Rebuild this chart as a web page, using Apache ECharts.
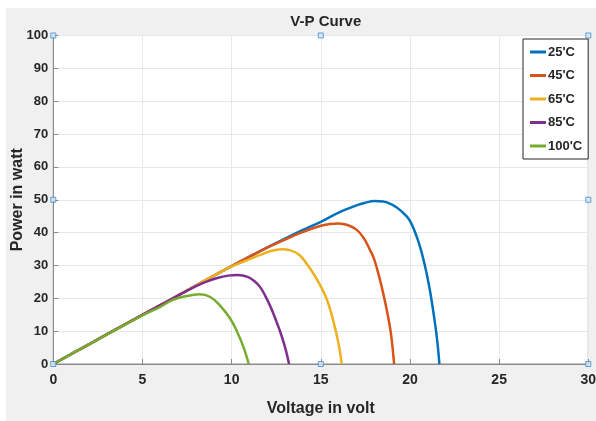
<!DOCTYPE html>
<html>
<head>
<meta charset="utf-8">
<script src="https://cdn.jsdelivr.net/npm/echarts@6/dist/echarts.min.js"></script>
<style>
  html, body { margin: 0; padding: 0; background: #ffffff; }
  #chart { width: 596px; height: 421px; }
</style>
</head>
<body>
<div id="chart"></div>
<script>
// ---- data ----
const seriesNames = ["25'C", "45'C", "65'C", "85'C", "100'C"];
const seriesColors = ['#0072BD', '#D95319', '#EDB120', '#7E2F8E', '#77AC30'];

const curve25 = [[0,0],[2,6],[4,12],[6,17.9],[8,23.9],[10,29.8],[12,35.5],[13,38.2],[14,40.8],[15,43.3],[16,46.1],[17,48.3],[17.5,49.1],[18,49.6],[18.5,49.5],[19,48.5],[19.5,46.6],[20,43.6],[20.5,36.8],[20.8,30.8],[21.1,23],[21.4,12.6],[21.55,6],[21.65,0]];
const curve45 = [[0,0],[2,6],[4,12],[6,17.9],[8,23.9],[10,29.8],[12,35.4],[13,37.9],[14,40.2],[15,42.1],[15.5,42.6],[16,42.8],[16.5,42.3],[17,40.9],[17.4,38.4],[17.76,34.7],[18,31.8],[18.3,26],[18.5,21.5],[18.7,16.4],[18.9,10.5],[19.0,6.3],[19.11,0]];
const curve65 = [[0,0],[2,6],[4,12],[6,17.9],[8,23.9],[10,29.7],[10.5,30.8],[11,31.9],[11.6,33.2],[12.2,34.4],[12.8,34.9],[13.3,34.6],[13.8,33.2],[14.2,30.6],[14.6,27.4],[14.96,24.0],[15.33,19.8],[15.6,15.2],[15.85,9.8],[16.05,4.6],[16.17,0]];
const curve85 = [[0,0],[2,6],[4,12],[6,17.9],[8,23.7],[8.6,25.1],[9.2,26.2],[9.8,26.9],[10.35,27.1],[10.9,26.5],[11.3,25.1],[11.6,23.4],[11.9,20.6],[12.2,17.2],[12.5,13.1],[12.8,8.6],[13.05,4],[13.22,0]];
const curve100 = [[0,0],[2,6],[4,11.9],[5,14.8],[6,17.4],[6.7,19.5],[7.4,20.6],[8.2,21.2],[8.8,20.4],[9.35,17.8],[9.9,14],[10.3,9.9],[10.66,5.2],[10.96,0]];
const curves = [curve25, curve45, curve65, curve85, curve100];

// axis setup (tick values)
const xMin = 0, xMax = 30, xStep = 5;
const yMin = 0, yMax = 100, yStep = 10;
// MATLAB figure selection handles (in data units)
const handlePoints = [[0,0],[15,0],[30,0],[0,50],[30,50],[0,100],[15,100],[30,100]];

const titleText = 'V-P Curve';
const xName = 'Voltage in volt';
const yName = 'Power in watt';

// ---- chart ----
const FONT = "'Liberation Sans Narrow', 'Liberation Sans', Arial, sans-serif";
const TXT = '#262626';
const chart = echarts.init(document.getElementById('chart'), null, { renderer: 'canvas' });

const lineSeries = curves.map((c, i) => ({
  name: seriesNames[i],
  type: 'line',
  data: c,
  showSymbol: false,
  smooth: 0.4,
  lineStyle: { width: 2.5, color: seriesColors[i] },
  itemStyle: { color: seriesColors[i] },
  z: 3 + i,
  animation: false
}));

chart.setOption({
  animation: false,
  backgroundColor: '#ffffff',
  graphic: [{
    type: 'rect', z: -10, silent: true,
    shape: { x: 6, y: 8, width: 590, height: 413 },
    style: { fill: '#f0f0f0' }
  }],
  title: {
    text: titleText,
    left: 320.8, top: 9, textAlign: 'center',
    textStyle: { fontFamily: FONT, fontWeight: 'bold', fontSize: 15, color: TXT }
  },
  legend: {
    data: seriesNames,
    orient: 'vertical',
    left: 523, top: 39,
    padding: [6, 6, 6, 7],
    itemGap: 9.5,
    itemWidth: 16, itemHeight: 3,
    icon: 'rect',
    backgroundColor: '#ffffff',
    borderColor: '#262626', borderWidth: 1,
    textStyle: { fontFamily: FONT, fontWeight: 'bold', fontSize: 13, color: TXT, lineHeight: 14, padding: [0, 0, 0, -3] }
  },
  grid: {
    left: 53.3, right: 7.7, top: 35.5, bottom: 57,
    show: true, backgroundColor: '#ffffff', borderColor: '#8a8a8a', borderWidth: 1,
    containLabel: false,
    outerBoundsMode: 'none'
  },
  xAxis: {
    type: 'value', min: xMin, max: xMax, interval: xStep,
    name: xName, nameLocation: 'middle', nameGap: 37, nameMoveOverlap: false,
    nameTextStyle: { fontFamily: FONT, fontWeight: 'bold', fontSize: 16, color: TXT },
    axisLine: { show: true, lineStyle: { color: '#8a8a8a', width: 1 } },
    axisTick: { show: true, inside: true, length: 5, lineStyle: { color: '#8a8a8a' } },
    axisLabel: { fontFamily: FONT, fontWeight: 'bold', fontSize: 14, color: TXT, margin: 9 },
    splitLine: { show: true, lineStyle: { color: '#e8e8e8', width: 1 } }
  },
  yAxis: {
    type: 'value', min: yMin, max: yMax, interval: yStep,
    name: yName, nameLocation: 'middle', nameGap: 28, nameMoveOverlap: false,
    nameTextStyle: { fontFamily: FONT, fontWeight: 'bold', fontSize: 16, color: TXT },
    axisLine: { show: true, lineStyle: { color: '#8a8a8a', width: 1 } },
    axisTick: { show: true, inside: true, length: 5, lineStyle: { color: '#8a8a8a' } },
    axisLabel: { fontFamily: FONT, fontWeight: 'bold', fontSize: 13, color: TXT, margin: 5 },
    splitLine: { show: true, lineStyle: { color: '#e8e8e8', width: 1 } }
  },
  series: lineSeries.concat([{
    name: 'handles',
    type: 'scatter',
    data: handlePoints,
    symbol: 'rect',
    symbolSize: 5,
    clip: false,
    silent: true,
    z: 20,
    itemStyle: { color: '#d6e6f5', borderColor: '#3d8ad0', borderWidth: 1 }
  }])
});
</script>
</body>
</html>
